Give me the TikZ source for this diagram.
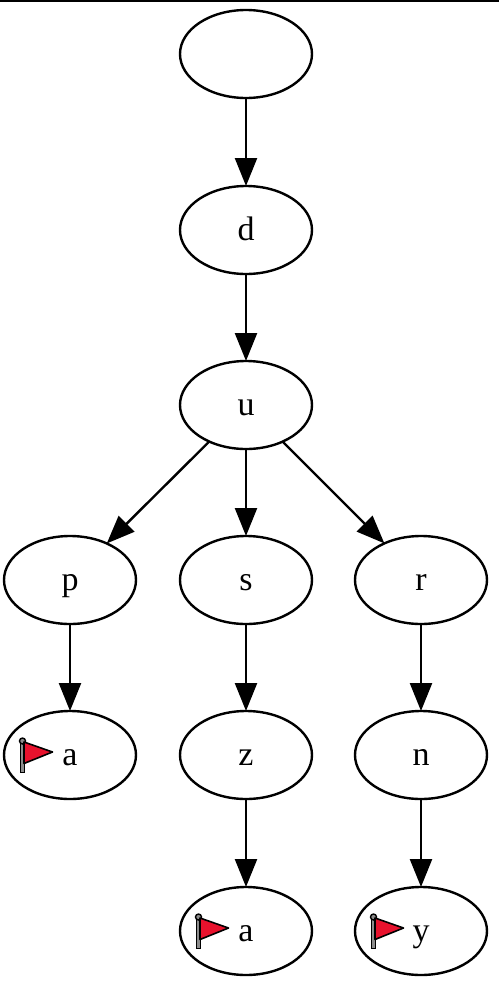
\documentclass[tikz,border=0pt]{standalone}
\usepackage{fontspec}
\setmainfont{Liberation Serif}
\usetikzlibrary{shapes.geometric,arrows.meta}
\definecolor{flagred}{RGB}{232,18,45}
\tikzset{
  x=1pt,y=-1pt,
  tn/.style={draw=black,line width=2.4pt,ellipse,minimum width=132pt,minimum height=88pt,inner sep=0pt,outer sep=0pt,font=\fontsize{34}{36}\selectfont,text=black,text height=21pt,text depth=0pt},
  edge/.style={draw=black,line width=2.4pt,-{Triangle[length=28pt,width=22pt]}},
  flagcloth/.style={fill=flagred,draw=black,line width=1.6pt,line join=round},
  flagpole/.style={fill=black!45,draw=black,line width=1.4pt}
}
\newcommand{\flagmark}[2]{%
  \begin{scope}[shift={(#1,#2)}]
    \filldraw[flagpole] (-2,-14) rectangle (2,17.5);
    \filldraw[flagpole] (0,-14) circle (3);
    \path[flagcloth] (1.5,-13) -- (30,-3) -- (1.5,8.5) -- cycle;
  \end{scope}}
\begin{document}
\begin{tikzpicture}
\useasboundingbox (0,0) rectangle (499,983);
\fill[black] (0,0) rectangle (499,1.6);
\node[tn] (root) at (246,54) {};
\node[tn] (d) at (246,230) {d};
\node[tn] (u) at (246,405) {u};
\node[tn] (p) at (70,580) {p};
\node[tn] (s) at (246,580) {s};
\node[tn] (r) at (421,580) {r};
\node[tn] (a1) at (70,755) {a};
\node[tn] (z) at (246,755) {z};
\node[tn] (n) at (421,755) {n};
\node[tn] (a2) at (246,931) {a};
\node[tn] (y) at (421,931) {y};
\flagmark{22.5}{755}
\flagmark{198.5}{931}
\flagmark{373.5}{931}
\draw[edge] (root) -- (d);
\draw[edge] (d) -- (u);
\draw[edge] (u) -- (p);
\draw[edge] (u) -- (s);
\draw[edge] (u) -- (r);
\draw[edge] (p) -- (a1);
\draw[edge] (s) -- (z);
\draw[edge] (r) -- (n);
\draw[edge] (z) -- (a2);
\draw[edge] (n) -- (y);
\end{tikzpicture}
\end{document}
